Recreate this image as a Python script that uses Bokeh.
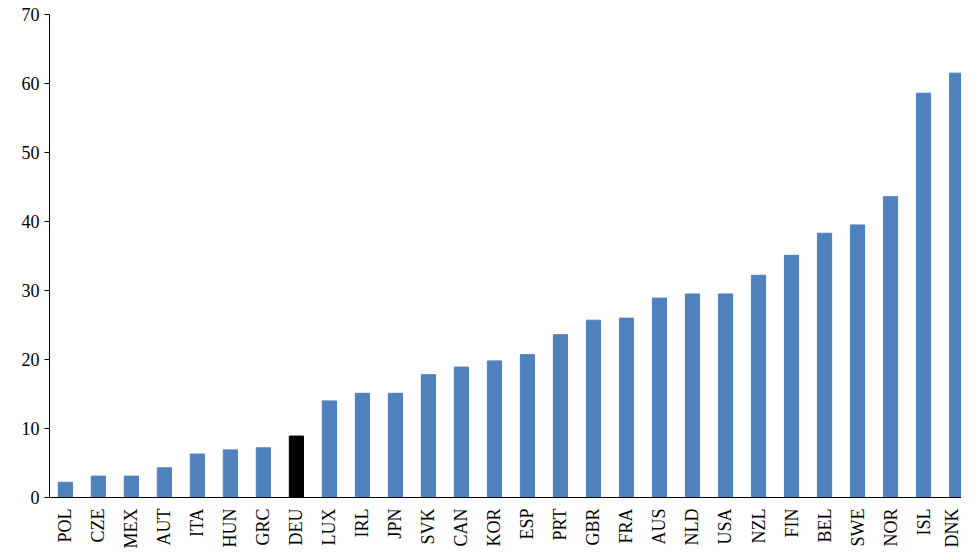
import math
from bokeh.plotting import figure
from bokeh.models import ColumnDataSource, Range1d, FixedTicker
from bokeh.embed import file_html
from bokeh.resources import INLINE

countries = ["POL", "CZE", "MEX", "AUT", "ITA", "HUN", "GRC", "DEU", "LUX", "IRL",
             "JPN", "SVK", "CAN", "KOR", "ESP", "PRT", "GBR", "FRA", "AUS", "NLD",
             "USA", "NZL", "FIN", "BEL", "SWE", "NOR", "ISL", "DNK"]
values = [2.2, 3.1, 3.1, 4.3, 6.3, 6.9, 7.2, 8.9, 14.0, 15.1,
          15.1, 17.8, 18.9, 19.8, 20.7, 23.6, 25.7, 26.0, 28.9, 29.5,
          29.5, 32.2, 35.1, 38.3, 39.5, 43.6, 58.6, 61.5]

idx = list(range(len(countries)))
colors = ["#000000" if c == "DEU" else "#4f81bd" for c in countries]
source = ColumnDataSource(data=dict(x=idx, top=values, color=colors))

p = figure(width=961, height=551, output_backend="svg", toolbar_location=None,
           x_range=Range1d(-0.48, 27.15), y_range=Range1d(0, 70),
           min_border_left=49, min_border_right=0, min_border_top=14, min_border_bottom=40)
p.vbar(x="x", top="top", width=0.43, color="color", source=source)

p.outline_line_color = None
p.xgrid.grid_line_color = None
p.ygrid.grid_line_color = None

p.xaxis.ticker = FixedTicker(ticks=idx)
p.xaxis.major_label_overrides = {i: c for i, c in enumerate(countries)}
p.xaxis.major_label_orientation = math.pi / 2
p.xaxis.major_tick_line_color = None
p.xaxis.minor_tick_line_color = None
p.xaxis.axis_line_color = "black"

p.yaxis.ticker = FixedTicker(ticks=list(range(0, 71, 10)))
p.yaxis.minor_tick_line_color = None
p.yaxis.major_tick_in = 0
p.yaxis.major_tick_out = 5
p.yaxis.axis_line_color = "black"

for ax in (p.xaxis, p.yaxis):
    ax.major_label_text_font = "Times New Roman"
    ax.major_label_text_font_size = "18px"
    ax.major_label_text_color = "black"

open("out.html", "w").write(file_html(p, INLINE))
